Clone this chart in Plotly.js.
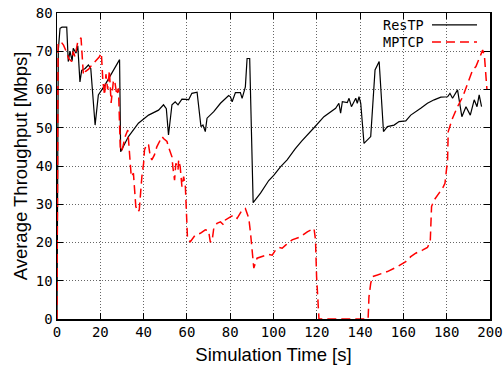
<!DOCTYPE html>
<html>
<head>
<meta charset="utf-8">
<script src="https://cdn.plot.ly/plotly-3.0.1.min.js"></script>
<style>html,body{margin:0;padding:0;background:#fff;}#chart{width:503px;height:368px;}</style>
</head>
<body>
<div id="chart"></div>
<script>
// Simulation time [s] and average throughput [Mbps]
const resTime = [0, 0.6, 1.4, 2.3, 4.5, 5.2, 6, 7, 7.5, 8.8,
  9.6, 10.6, 11.4, 13, 14.5, 15.6, 17.6, 19.1, 22.2, 25.3,
  28.4, 28.9, 29.4, 33, 37.6, 42.3, 46.9, 49.2, 50.5, 51.5,
  53.1, 54.6, 55.9, 57.7, 60, 60.8, 62.3, 64.7, 66.5, 67.4,
  68.5, 69.3, 72.4, 75.5, 79.3, 80.1, 80.9, 82.4, 84.7, 85.5,
  87, 87.8, 89, 90.6, 94, 97.8, 100.2, 103.2, 106.3, 110,
  113, 116, 118.7, 123.3, 128.7, 130.2, 131, 131.8, 134.1, 134.9,
  136, 138, 138.7, 139.5, 140.3, 141.8, 144.9, 146.9, 148.8, 150.8,
  152.6, 155.7, 158, 161.1, 163.4, 168, 171.1, 174.2, 177.3, 180.4,
  181.5, 182.7, 185, 187, 188.9, 190.9, 192.7, 194, 195, 196.1];
const resThroughput = [0, 70.3, 76, 76.3, 76.3, 67.3, 70, 67.5, 70.8, 69.5,
  71.4, 62, 65, 65.5, 66.4, 65.5, 50.7, 58.6, 61.2, 64.2,
  67.3, 67.8, 43.7, 47.7, 51.2, 53.3, 54.6, 56, 55, 48.1,
  56, 56.8, 56, 57.5, 57.4, 57.3, 59, 59.3, 50.3, 50.7,
  49, 52.5, 54.2, 56.4, 58.4, 58.1, 56.8, 59.2, 59.2, 57.7,
  60.7, 68.1, 68.1, 30.4, 32.9, 36.2, 37.6, 39.8, 41.6, 44.5,
  46.5, 48.5, 50, 52.9, 55.1, 56.4, 53.8, 56.8, 56.6, 57.7,
  55.5, 57.7, 56.4, 58.1, 56.4, 45.9, 47.7, 65.1, 67.3, 49,
  50.3, 50.7, 51.6, 51.8, 53.3, 55.1, 56.4, 57.3, 58, 58.1,
  59, 57.7, 59.9, 52.9, 55.5, 53.3, 57.3, 55.5, 58.6, 55.5];

const mptcpTime = [0, 0.5, 1.8, 3, 4.3, 5.4, 6.8, 7.5, 8.3, 9.6,
  11.1, 11.6, 12.2, 13.1, 14.6, 16.1, 17.6, 19.5, 20.5, 21.2,
  22, 22.6, 23.4, 24.2, 25, 26, 26.6, 27.6, 28.4, 29.2,
  29.9, 31.5, 32.7, 33.4, 34.3, 35.3, 35.8, 36.4, 37.4, 38,
  39.2, 40, 40.4, 41.5, 42.3, 43.1, 43.8, 45, 46.1, 46.9,
  48.5, 49.2, 50.8, 51.5, 52.3, 53.1, 53.5, 54.3, 54.9, 55.9,
  56.2, 56.9, 57.7, 58.5, 59.3, 60.3, 61.6, 63.9, 66.2, 68.5,
  70, 70.8, 71.6, 72.4, 73.9, 75.5, 77, 77.8, 80.1, 81.6,
  83.2, 85.5, 87, 88.6, 89.4, 90.1, 90.9, 92.4, 95.5, 97.8,
  99.4, 100.2, 100.9, 102.5, 104, 105.6, 108.6, 112.5, 115.6, 118.7,
  119.4, 119.9, 120.5, 121, 143.7, 144.1, 144.9, 145.7, 148, 152.6,
  157.3, 161.1, 163.4, 165.7, 168.8, 171.1, 172.4, 172.7, 173, 174.2,
  175.8, 178.1, 179.2, 179.6, 180.4, 180.7, 182.7, 185, 187.4, 189.7,
  192, 193.5, 195, 196.6, 197.4, 198.6];
const mptcpThroughput = [0, 72, 72.5, 71.6, 69.9, 68.1, 67.3, 69.9, 68.6, 72.5,
  73.5, 68, 63.8, 64.7, 65.3, 66.4, 67.3, 68.5, 69.5, 62,
  58.5, 64, 60, 65, 56.5, 62, 62.5, 58.6, 60.3, 45,
  43.7, 47.7, 49.4, 44.2, 37.2, 38.1, 34.6, 29.4, 28, 28.5,
  37.2, 40.7, 44.2, 45.8, 45.5, 42.4, 41.6, 42.9, 45, 45.9,
  47.7, 47.2, 46.4, 45, 43.7, 42.4, 39.8, 36.3, 40.7, 39,
  41.6, 39.8, 34.6, 37.2, 34.6, 20.7, 20.2, 22, 22.4, 23.3,
  23.1, 20.2, 20.2, 23.7, 25, 25.4, 24.6, 25.9, 26.7, 27.2,
  26.3, 28.5, 28.9, 26.3, 22.4, 17.2, 13.3, 15.9, 16.5, 16.9,
  16.7, 17.6, 18, 18.7, 18.5, 19.3, 20.7, 21.5, 22.8, 23.7,
  20.7, 11.1, 2.4, 0, 0, 5.8, 9.3, 11.1, 11.5, 12.4,
  13.7, 15, 16.3, 17.2, 18, 18.7, 20.2, 24.1, 29.4, 31.1,
  32.4, 34.2, 35.5, 38.1, 41.6, 49, 52.5, 55.5, 58.1, 61.6,
  65.1, 66, 68.2, 70.3, 69, 59.9];

const seriesNames = ["ResTP", "MPTCP"];
const xTicks = [0, 20, 40, 60, 80, 100, 120, 140, 160, 180, 200];
const yTicks = [0, 10, 20, 30, 40, 50, 60, 70, 80];

const mono = "DejaVu Sans Mono, monospace";
const sans = "Liberation Sans, Arial, sans-serif";

const traces = [
  {x: resTime, y: resThroughput, name: seriesNames[0], type: "scatter", mode: "lines",
   line: {color: "#000000", width: 1.2}, showlegend: false},
  {x: mptcpTime, y: mptcpThroughput, name: seriesNames[1], type: "scatter", mode: "lines",
   line: {color: "#ff0000", width: 1.5, dash: "9px,5px"}, showlegend: false}
];

const axisCommon = {
  showline: true, linecolor: "#000", linewidth: 1.5, mirror: "ticks",
  ticks: "inside", ticklen: 6, tickcolor: "#000", tickwidth: 1,
  showgrid: true, gridcolor: "#666", griddash: "1px,2px", gridwidth: 1,
  zeroline: false, tickfont: {family: mono, size: 14, color: "#000"}
};

const layout = {
  width: 503, height: 368,
  margin: {l: 57, r: 13, t: 13, b: 49},
  paper_bgcolor: "#fff", plot_bgcolor: "#fff",
  xaxis: Object.assign({}, axisCommon, {
    range: [0, 200], tickvals: xTicks, ticktext: xTicks.map(String),
    title: {text: "Simulation Time [s]", font: {family: sans, size: 18.5, color: "#000"}, standoff: 9}
  }),
  yaxis: Object.assign({}, axisCommon, {
    range: [0, 80], tickvals: yTicks, ticktext: yTicks.map(String),
    title: {text: "Average Throughput [Mbps]", font: {family: sans, size: 18.5, color: "#000"}, standoff: 3}
  }),
  annotations: [
    {xref: "paper", yref: "paper", x: 0.853, y: 0.961, xanchor: "right", yanchor: "middle",
     text: seriesNames[0], showarrow: false, font: {family: mono, size: 13.5, color: "#000"}},
    {xref: "paper", yref: "paper", x: 0.853, y: 0.905, xanchor: "right", yanchor: "middle",
     text: seriesNames[1], showarrow: false, font: {family: mono, size: 13.5, color: "#000"}}
  ],
  shapes: [
    {type: "line", xref: "paper", yref: "paper", x0: 0.866, x1: 0.970, y0: 0.961, y1: 0.961,
     line: {color: "#000", width: 1.2}},
    {type: "line", xref: "paper", yref: "paper", x0: 0.866, x1: 0.970, y0: 0.905, y1: 0.905,
     line: {color: "#ff0000", width: 1.5, dash: "9px,5px"}}
  ]
};

Plotly.newPlot("chart", traces, layout, {displayModeBar: false, staticPlot: true});
</script>
</body>
</html>
